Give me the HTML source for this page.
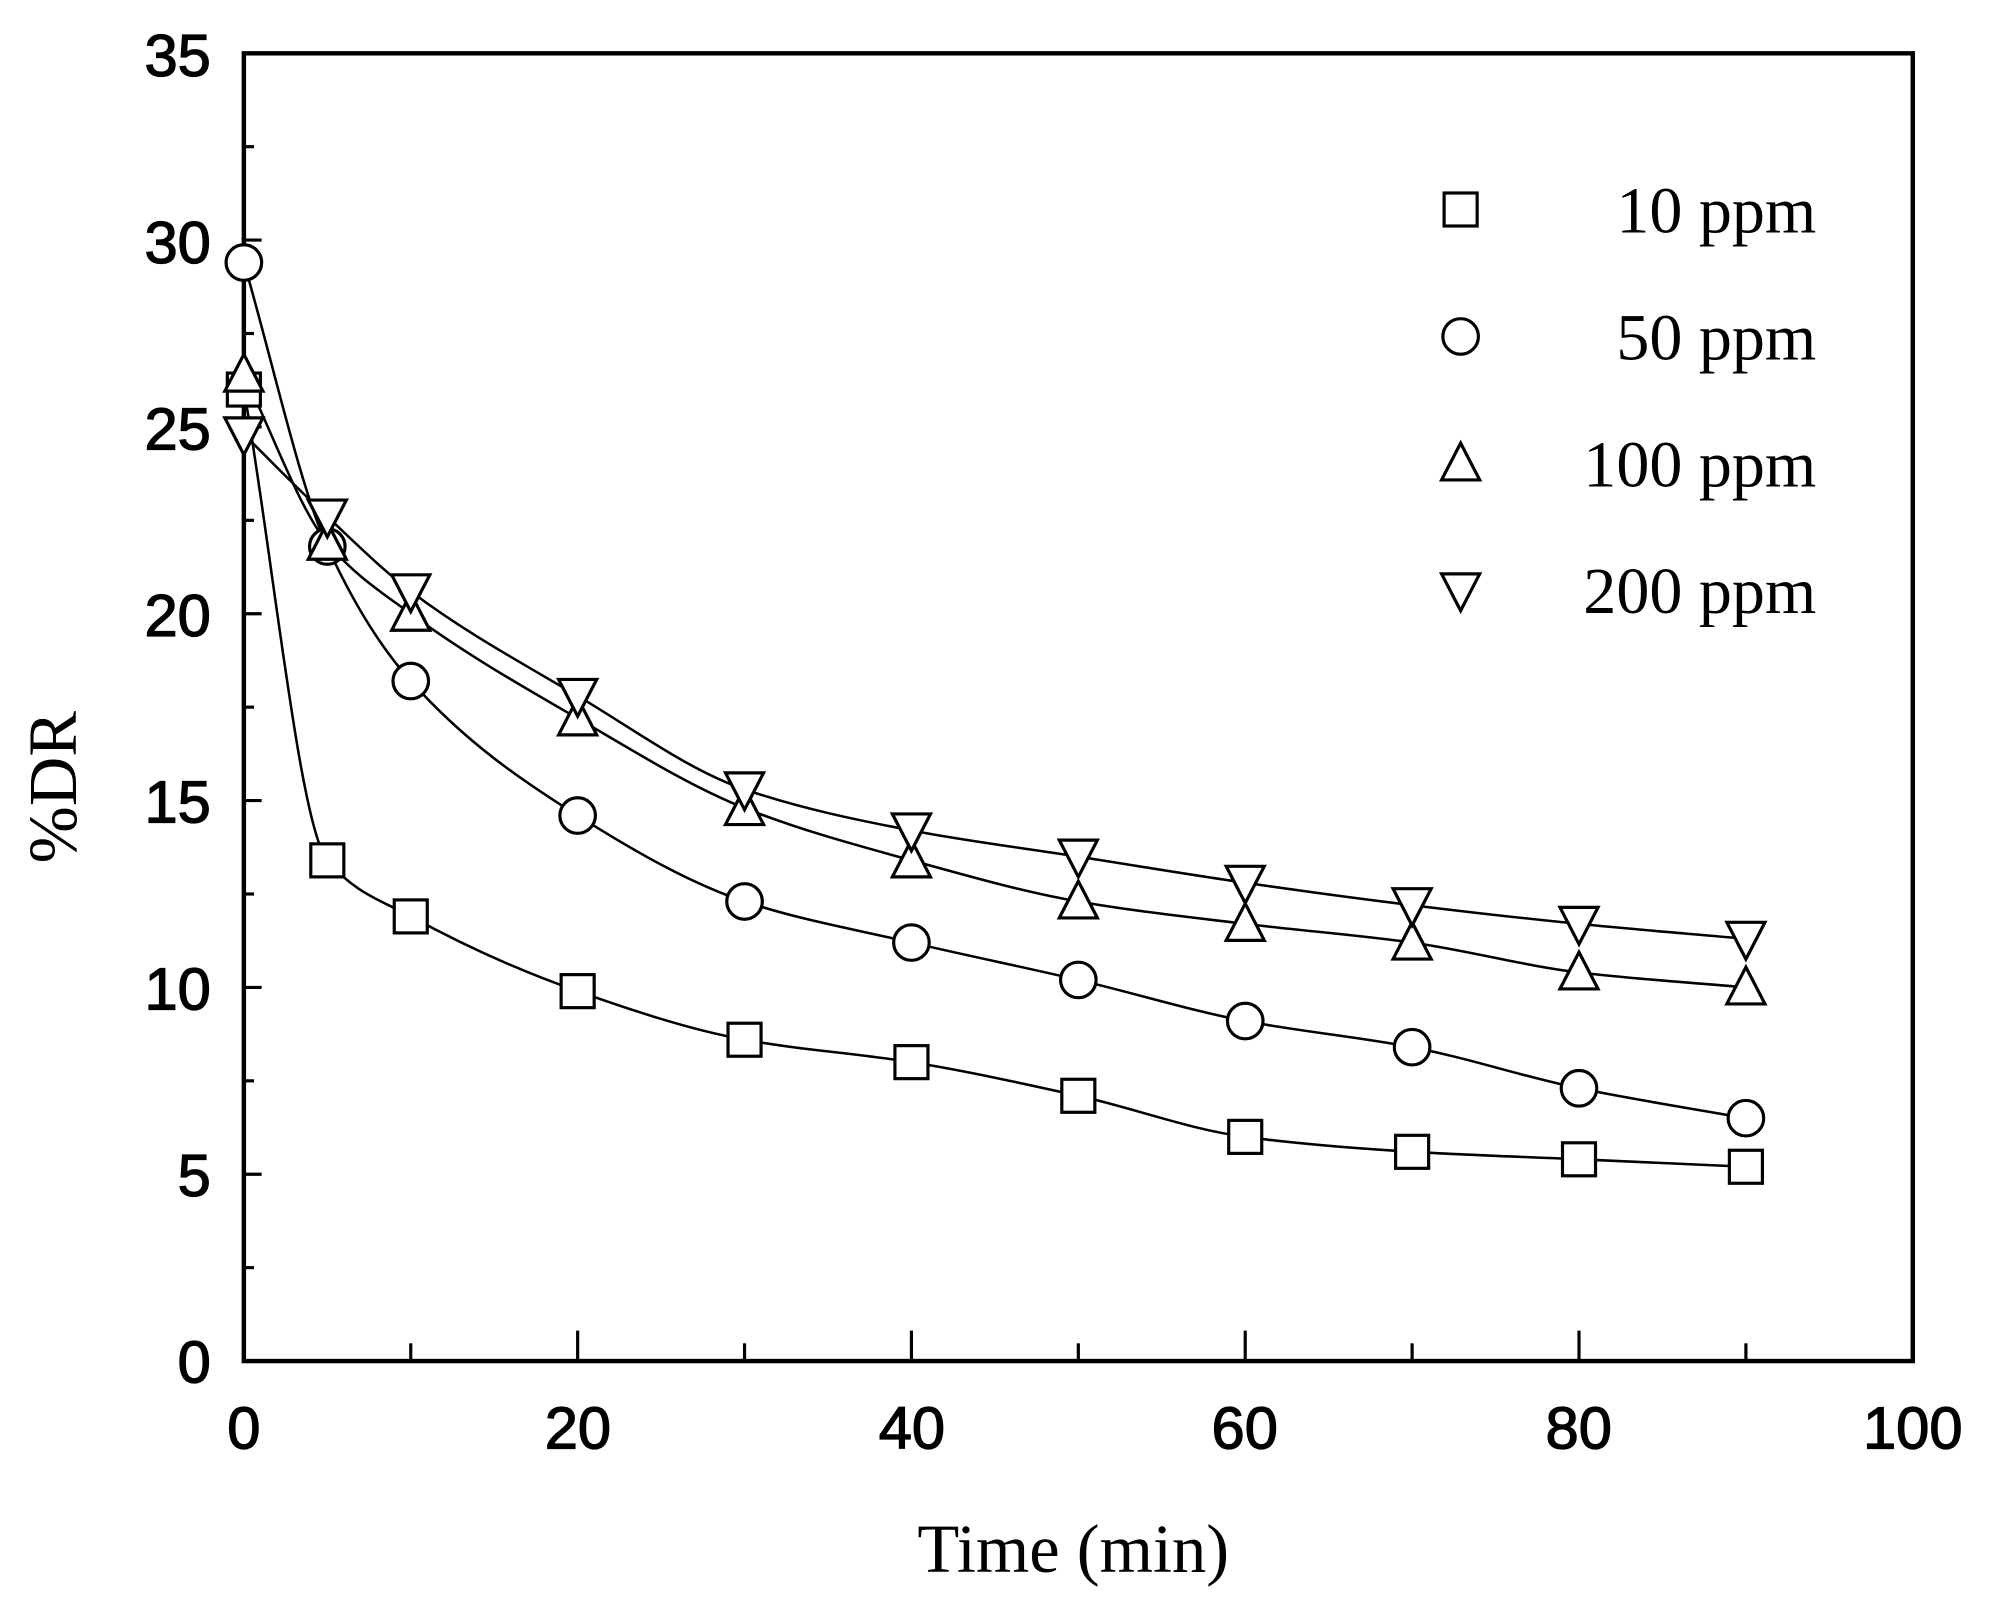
<!DOCTYPE html>
<html><head><meta charset="utf-8"><style>
html,body{margin:0;padding:0;background:#fff;}
svg{display:block}
</style></head><body>
<svg id="s" width="1989" height="1615" viewBox="0 0 1566 1272" preserveAspectRatio="none" xmlns="http://www.w3.org/2000/svg">
<rect x="0" y="0" width="1566" height="1272" fill="#fff"/>
<rect x="192" y="42" width="1314" height="1030" fill="none" stroke="#000" stroke-width="3.5"/>
<g id="ticks" stroke="#000" stroke-width="2.5"></g>
<g font-family="Liberation Sans, Arial, sans-serif" font-size="47" text-anchor="end" fill="#000" stroke="#000" stroke-width="1">
<text x="166" y="1089">0</text><text x="166" y="942">5</text><text x="166" y="795">10</text>
<text x="166" y="648">15</text><text x="166" y="501">20</text><text x="166" y="354">25</text>
<text x="166" y="207">30</text><text x="166" y="60">35</text>
</g>
<g font-family="Liberation Sans, Arial, sans-serif" font-size="47" text-anchor="middle" fill="#000" stroke="#000" stroke-width="1">
<text x="192" y="1141">0</text><text x="455" y="1141">20</text><text x="718" y="1141">40</text>
<text x="980" y="1141">60</text><text x="1243" y="1141">80</text><text x="1506" y="1141">100</text>
</g>
<text x="845" y="1238" font-family="Liberation Serif, serif" font-size="54" text-anchor="middle">Time (min)</text>
<text transform="translate(60,620) rotate(-90)" font-family="Liberation Serif, serif" font-size="54" text-anchor="middle">%DR</text>
<g id="curves" fill="none" stroke="#000" stroke-width="2"></g>
<g id="marks" fill="#fff" stroke="#000" stroke-width="2.5"></g>
<g font-family="Liberation Serif, serif" font-size="52" text-anchor="end" fill="#000">
<text x="1430" y="183">10 ppm</text><text x="1430" y="283">50 ppm</text>
<text x="1430" y="383">100 ppm</text><text x="1430" y="483">200 ppm</text>
</g>
<g id="leg" fill="#fff" stroke="#000" stroke-width="2.5"></g>
</svg>
<script>
var NS="http://www.w3.org/2000/svg";
function el(p,t,a){var e=document.createElementNS(NS,t);for(var k in a)e.setAttribute(k,a[k]);document.getElementById(p).appendChild(e);}
function X(x){return 192+13.14*x;} function Y(y){return 1072-29.43*y;}
for(var v=0;v<=35;v+=2.5){var L=(v%5==0)?14:8;el("ticks","line",{x1:192,y1:Y(v),x2:192+L,y2:Y(v)});}
for(var v=10;v<100;v+=10){var L=(v%20==0)?24:14;el("ticks","line",{x1:X(v),y1:1072,x2:X(v),y2:1072-L});}
var xs=[0,5,10,20,30,40,50,60,70,80,90];
var D=[[26,13.4,11.9,9.9,8.6,8.0,7.1,6.0,5.6,5.4,5.2],
[29.4,21.8,18.2,14.6,12.3,11.2,10.2,9.1,8.4,7.3,6.5],
[26.4,21.9,20.0,17.2,14.8,13.4,12.3,11.7,11.2,10.4,10.0],
[24.8,22.6,20.6,17.8,15.3,14.2,13.5,12.8,12.2,11.7,11.3]];
function mark(g,t,cx,cy){var r=13;
if(t==0)el(g,"rect",{x:cx-r,y:cy-r,width:2*r,height:2*r});
else if(t==1)el(g,"circle",{cx:cx,cy:cy,r:r+1});
else if(t==2)el(g,"polygon",{points:(cx-r-2)+","+(cy+r)+" "+(cx+r+2)+","+(cy+r)+" "+cx+","+(cy-r-3)});
else el(g,"polygon",{points:(cx-r-2)+","+(cy-r)+" "+(cx+r+2)+","+(cy-r)+" "+cx+","+(cy+r+3)});}
for(var s=0;s<4;s++){
var x=xs.map(X),y=D[s].map(Y),n=x.length,dl=[],m=[];
for(var i=0;i<n-1;i++)dl.push((y[i+1]-y[i])/(x[i+1]-x[i]));
m[0]=dl[0];m[n-1]=dl[n-2];
for(var i=1;i<n-1;i++){if(dl[i-1]*dl[i]<=0)m[i]=0;else{var w1=2*(x[i+1]-x[i])+(x[i]-x[i-1]),w2=(x[i+1]-x[i])+2*(x[i]-x[i-1]);m[i]=(w1+w2)/(w1/dl[i-1]+w2/dl[i]);}}
var d="M"+x[0]+","+y[0];
for(var i=0;i<n-1;i++){var h=(x[i+1]-x[i])/3;
d+=" C"+(x[i]+h)+","+(y[i]+m[i]*h)+" "+(x[i+1]-h)+","+(y[i+1]-m[i+1]*h)+" "+x[i+1]+","+y[i+1];}
el("curves","path",{d:d});}
for(var s=0;s<4;s++)for(var i=0;i<xs.length;i++)mark("marks",s,X(xs[i]),Y(D[s][i]));
for(var s=0;s<4;s++)mark("leg",s,1150,165+100*s);
</script>
</body></html>
